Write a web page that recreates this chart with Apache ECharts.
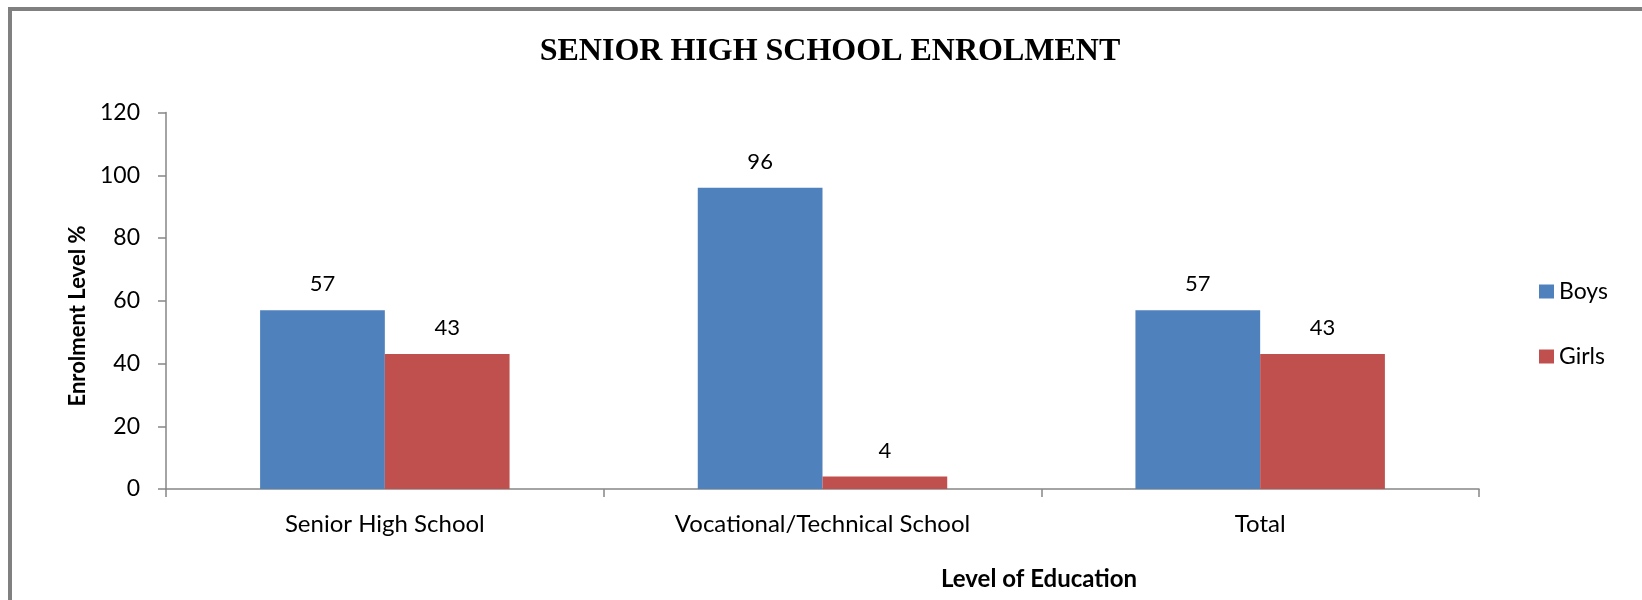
<!DOCTYPE html>
<html>
<head>
<meta charset="utf-8">
<script src="https://cdn.jsdelivr.net/npm/echarts@6/dist/echarts.min.js"></script>
<style>
  html, body { margin: 0; padding: 0; background: #fff; overflow: hidden; }
  #chart { width: 1642px; height: 600px; }
</style>
</head>
<body>
<div id="chart"></div>
<script>
// Enrolment shares (%) by level of senior high education
const categories = ['Senior High School', 'Vocational/Technical School', 'Total'];
const boys = [57, 96, 57];
const girls = [43, 4, 43];
const yTicks = { min: 0, max: 120, interval: 20 };

const chart = echarts.init(document.getElementById('chart'), null, { renderer: 'canvas' });

const axisGray = '#868686';

const valueLabel = {
  show: true,
  position: 'top',
  distance: 15,
  fontFamily: 'Lato',
  fontSize: 22,
  color: '#000'
};

chart.setOption({
  animation: false,
  backgroundColor: '#fff',
  title: {
    text: 'SENIOR HIGH SCHOOL ENROLMENT',
    left: 825,
    top: 31,
    textAlign: 'center',
    textStyle: {
      fontFamily: 'Liberation Serif',
      fontWeight: 'bold',
      fontSize: 32,
      color: '#000'
    }
  },
  legend: {
    orient: 'vertical',
    left: 1534,
    top: 275,
    itemWidth: 15,
    itemHeight: 14,
    itemGap: 42,
    icon: 'rect',
    textStyle: { fontFamily: 'Lato', fontSize: 23, color: '#000' },
    data: ['Boys', 'Girls']
  },
  grid: { left: 166, right: 163, top: 112.5, bottom: 111, outerBoundsMode: 'none' },
  xAxis: {
    type: 'category',
    data: categories,
    axisLine: { lineStyle: { color: axisGray, width: 1.5 } },
    axisTick: { show: true, length: 8, lineStyle: { color: axisGray, width: 1.5 } },
    axisLabel: { margin: 23, fontFamily: 'Lato', fontSize: 24, color: '#000' }
  },
  yAxis: {
    type: 'value',
    min: yTicks.min,
    max: yTicks.max,
    interval: yTicks.interval,
    splitLine: { show: false },
    axisLine: { show: true, lineStyle: { color: axisGray, width: 1.5 } },
    axisTick: { show: true, length: 8, lineStyle: { color: axisGray, width: 1.5 } },
    axisLabel: { margin: 26, fontFamily: 'Lato', fontSize: 23, color: '#000' }
  },
  series: [
    {
      name: 'Boys',
      type: 'bar',
      data: boys,
      barGap: '0%',
      barCategoryGap: '43%',
      itemStyle: { color: '#4F81BD' },
      label: valueLabel
    },
    {
      name: 'Girls',
      type: 'bar',
      data: girls,
      itemStyle: { color: '#C0504D' },
      label: valueLabel
    }
  ],
  graphic: [
    // chart frame (top and left edges)
    {
      type: 'polyline',
      silent: true,
      shape: { points: [[10, 620], [10, 9], [1660, 9]] },
      style: { stroke: '#808080', lineWidth: 4, fill: null }
    },
    // axis titles
    {
      type: 'text',
      silent: true,
      x: 1039,
      y: 579,
      style: {
        text: 'Level of Education',
        fontFamily: 'Lato',
        fontWeight: 'bold',
        fontSize: 24,
        fill: '#000',
        align: 'center',
        verticalAlign: 'middle'
      }
    },
    {
      type: 'text',
      silent: true,
      x: 78,
      y: 316,
      rotation: Math.PI / 2,
      style: {
        text: 'Enrolment Level %',
        fontFamily: 'Lato',
        fontWeight: 'bold',
        fontSize: 22,
        fill: '#000',
        align: 'center',
        verticalAlign: 'middle'
      }
    }
  ]
});
</script>
</body>
</html>
